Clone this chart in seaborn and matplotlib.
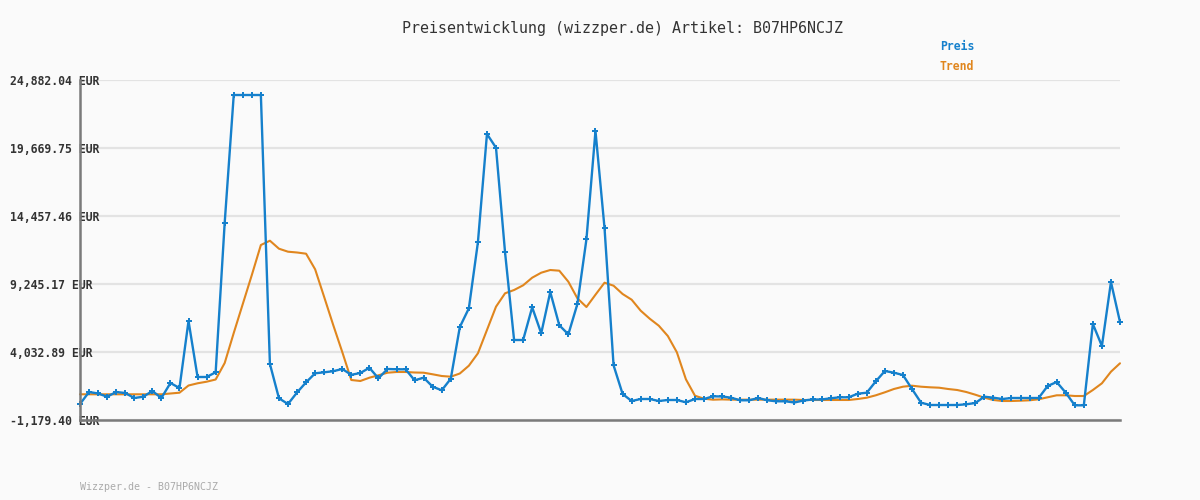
import matplotlib
matplotlib.use("Agg")
import matplotlib.pyplot as plt
import numpy as np
import pandas as pd
import seaborn as sns

# ---------------- data ----------------
title = "Preisentwicklung (wizzper.de) Artikel: B07HP6NCJZ"
footer = "Wizzper.de - B07HP6NCJZ"
series_names = ["Preis", "Trend"]
y_ticks = [-1179.40, 4032.89, 9245.17, 14457.46, 19669.75, 24882.04]

preis = [
    47, 967, 852, 607, 967, 890, 507, 607, 1044, 507,
    1657, 1273, 6409, 2117, 2117, 2477, 13944, 23732, 23732, 23732,
    23732, 3113, 484, 47, 929, 1710, 2400, 2477, 2561, 2730,
    2285, 2423, 2822, 2017, 2730, 2707, 2707, 1864, 2063, 1373,
    1097, 1986, 5949, 7383, 12442, 20743, 19693, 11675, 4953, 4953,
    7459, 5466, 8632, 6079, 5390, 7712, 12671, 20973, 13538, 3013,
    814, 277, 430, 430, 277, 354, 354, 177, 430, 430,
    637, 622, 530, 331, 331, 507, 331, 254, 254, 162,
    315, 392, 392, 484, 561, 561, 837, 913, 1787, 2576,
    2446, 2270, 1197, 147, -30, -30, -30, -30, 24, 124,
    607, 530, 430, 507, 507, 507, 507, 1427, 1733, 913,
    -53, -53, 6179, 4493, 9398, 6332,
]

trend = [
    791, 791, 791, 791, 791, 791, 791, 791, 791, 791,
    852, 913, 1465, 1634, 1756, 1925, 3190, 5489, 7712, 9935,
    12234, 12564, 11951, 11721, 11660, 11568, 10372, 8249, 6102, 4033,
    1887, 1810, 2063, 2247, 2446, 2500, 2500, 2462, 2446, 2324,
    2193, 2140, 2385, 2983, 3933, 5719, 7505, 8532, 8785, 9145,
    9728, 10111, 10318, 10265, 9421, 8149, 7482, 8425, 9345, 9115,
    8479, 8042, 7199, 6585, 6049, 5259, 4010, 1940, 683, 453,
    377, 400, 380, 380, 380, 380, 380, 380, 380, 380,
    354, 354, 354, 354, 354, 354, 430, 530, 714, 944,
    1197, 1373, 1450, 1373, 1327, 1296, 1197, 1120, 967, 760,
    530, 354, 277, 277, 300, 331, 408, 561, 714, 714,
    660, 660, 1120, 1634, 2523, 3167,
]

# ---------------- style ----------------
blue = "#1580cc"
orange = "#e0861e"
bg = "#fafafa"

sns.set_theme(style="white")
plt.rcParams["font.family"] = ["DejaVu Sans Mono", "DejaVu Sans"]

fig = plt.figure(figsize=(12, 5), dpi=100, facecolor=bg)
ax = fig.add_axes([80 / 1200, 80 / 500, 1040 / 1200, 340 / 500])
ax.set_facecolor(bg)

df = pd.DataFrame({"idx": np.arange(len(preis)), "Preis": preis, "Trend": trend})

sns.lineplot(data=df, x="idx", y="Trend", ax=ax, color=orange, linewidth=1.5,
             clip_on=False, zorder=3)
sns.lineplot(data=df, x="idx", y="Preis", ax=ax, color=blue, linewidth=1.7,
             marker="P", markersize=3.8, markeredgewidth=0, clip_on=False, zorder=4)

ax.set_xlim(0, len(preis) - 1)
ax.set_ylim(y_ticks[0], y_ticks[-1])
ax.set_xticks([])
ax.set_yticks(y_ticks)
ax.set_yticklabels([f"{v:,.2f} EUR" for v in y_ticks], ha="left",
                   fontweight="bold", fontsize=8.3, color="#333333")
ax.tick_params(axis="y", length=0, pad=50.4)
ax.set_xlabel("")
ax.set_ylabel("")

ax.yaxis.grid(True, color="#e3e3e3", linewidth=1.6)
ax.set_axisbelow(True)

for s in ["top", "right"]:
    ax.spines[s].set_visible(False)
for s in ["left", "bottom"]:
    ax.spines[s].set_color("#7a7a7a")
    ax.spines[s].set_linewidth(1.8)
    ax.spines[s].set_zorder(5)

fig.text(623 / 1200, 1 - 28 / 500, title, ha="center", va="center",
         fontsize=10.8, color="#333333")
fig.text(940 / 1200, 1 - 47 / 500, series_names[0], ha="left", va="center",
         fontsize=8.3, fontweight="bold", color=blue)
fig.text(940 / 1200, 1 - 67 / 500, series_names[1], ha="left", va="center",
         fontsize=8.3, fontweight="bold", color=orange)
fig.text(80 / 1200, 1 - 487 / 500, footer, ha="left", va="center",
         fontsize=7.2, color="#aaaaaa")

fig.savefig("out.png", dpi=100, facecolor=bg)
